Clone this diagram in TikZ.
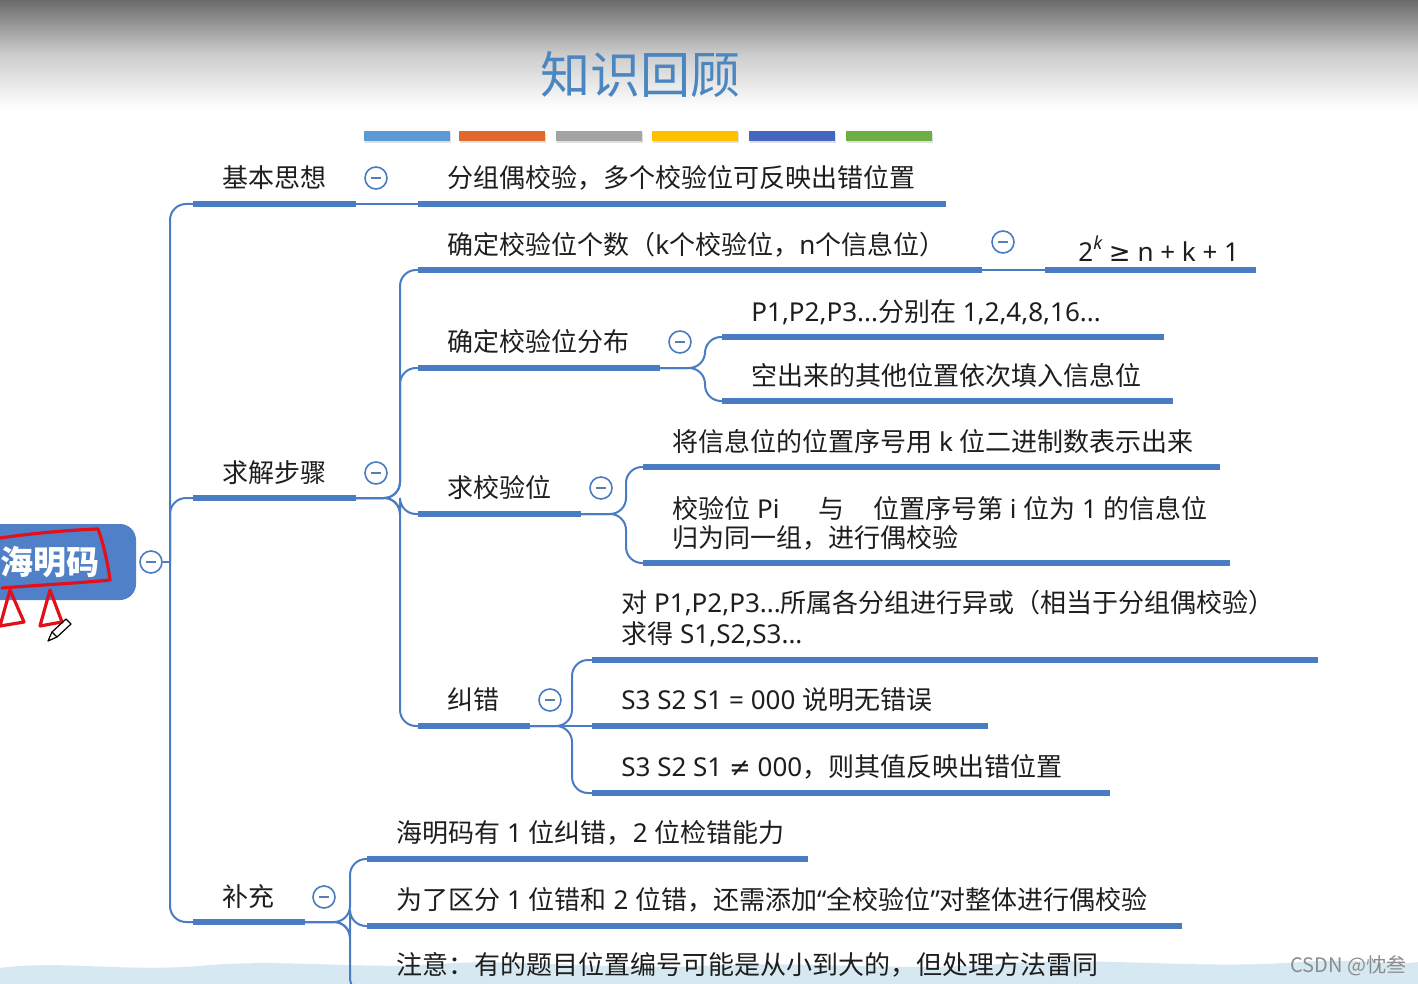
\documentclass[tikz,border=0pt]{standalone}
\usepackage{fontspec}
\usetikzlibrary{shadows}
\setmainfont{Noto Sans CJK SC}
\newfontfamily\lat{Noto Sans}
\newfontfamily\sym{DejaVu Sans}
\newcommand{\La}[1]{{\lat #1}}
\newcommand{\Sy}[1]{{\sym #1}}
\definecolor{mm}{HTML}{4A7CC4}
\definecolor{txt}{HTML}{1E1E1E}
\definecolor{ttl}{HTML}{4A86C0}
\definecolor{rootc}{HTML}{4F80C8}
\definecolor{annot}{HTML}{E3101C}
\definecolor{b1}{HTML}{5B9BD5}
\definecolor{b2}{HTML}{E0692D}
\definecolor{b3}{HTML}{A3A3A3}
\definecolor{b4}{HTML}{FFC000}
\definecolor{b5}{HTML}{4468C0}
\definecolor{b6}{HTML}{6CB043}
\definecolor{hill}{HTML}{D6E8F1}
\begin{document}
\begin{tikzpicture}[x=0.5pt,y=-0.5pt,
  lbl/.style={anchor=west, inner sep=0pt, text=txt, font=\fontsize{13}{15}\selectfont},
  lbltwo/.style={lbl, align=left, font=\fontsize{13}{14.5}\selectfont},
  uline/.style={line width=3pt, draw=mm},
  conn/.style={line width=1pt, draw=mm, rounded corners=8pt},
  tog/.style={circle, draw=mm, line width=0.8pt, fill=white, minimum size=11pt, inner sep=0pt,
    path picture={\draw[mm!70!gray, line width=0.9pt]
      ([xshift=-2.4pt]path picture bounding box.center) -- ([xshift=2.4pt]path picture bounding box.center);}},
  bar/.style={minimum width=43pt, minimum height=5pt, inner sep=0pt, drop shadow={opacity=0.25, shadow xshift=0.5pt, shadow yshift=-1pt}}
]
\useasboundingbox (0,0) rectangle (1418,984);
\begin{scope}
\clip (0,0) rectangle (1418,984);
% background
\fill[white] (0,0) rectangle (1418,984);
\shade[top color=black!58, bottom color=white, middle color=black!20] (0,0) rectangle (1418,108);
\fill[hill] (0,984) -- (0,968) .. controls (60,960) and (120,972) .. (200,966)
  .. controls (280,958) and (360,970) .. (440,964) .. controls (520,958) and (600,970) .. (700,966)
  .. controls (800,960) and (900,972) .. (1000,964) .. controls (1100,956) and (1200,970) .. (1300,962)
  .. controls (1360,958) and (1400,966) .. (1418,962) -- (1418,984) -- cycle;

% title
\node[text=ttl, font=\fontsize{25}{28}\selectfont, inner sep=0pt] (title) at (640,75) {知识回顾};
\node[bar, fill=b1] (bar1) at (407,136) {};
\node[bar, fill=b2] (bar2) at (502,136) {};
\node[bar, fill=b3] (bar3) at (599,136) {};
\node[bar, fill=b4] (bar4) at (695,136) {};
\node[bar, fill=b5] (bar5) at (792,136) {};
\node[bar, fill=b6] (bar6) at (889,136) {};

% root
\fill[rootc, rounded corners=8pt] (-30,524) rectangle (136,600);
\node[text=white, font=\fontsize{16.5}{18}\selectfont\bfseries, inner sep=0pt] (root) at (50,562) {海明码};
\node[tog] (t0) at (151,562) {};

% red annotation
\draw[annot, line width=1.6pt, line cap=round, line join=round]
  (0,538) .. controls (35,533) and (70,530) .. (98,529) .. controls (104,545) and (108,565) .. (110,580)
  .. controls (80,583) and (40,585) .. (2,588);
\draw[annot, line width=1.6pt, line join=round] (10,590) -- (0,626) -- (24,622) -- cycle;
\draw[annot, line width=1.6pt, line join=round] (50,590) -- (40,626) -- (62,622) -- cycle;
\draw[black, line width=0.6pt, line join=round] (48,641) -- (52,632) -- (66,619) -- (71,624) -- (57,637) -- cycle;
\draw[black, line width=0.6pt] (52,632) -- (57,637);

% trunk
\coordinate (tr) at (170,562);
\coordinate (n1a) at (193,204); \coordinate (n1b) at (356,204);
\coordinate (n2a) at (193,498); \coordinate (n2b) at (356,498);
\coordinate (n3a) at (193,922); \coordinate (n3b) at (305,922);
\draw[conn] (t0.east) -- (tr);
\draw[conn] (tr) |- (n1a);
\draw[conn] (tr) |- (n2a);
\draw[conn] (tr) |- (n3a);

% ---- 基本思想
\node[lbl] (n1) at (222,178) {基本思想};
\draw[uline] (n1a) -- (n1b);
\node[tog] (c1) at (376,178) {};
\node[lbl] (n11) at (447,178) {分组偶校验，多个校验位可反映出错位置};
\coordinate (n11a) at (418,204); \coordinate (n11b) at (946,204);
\draw[uline] (n11a) -- (n11b);
\draw[conn] (n1b) -- (n11a);

% ---- 求解步骤
\node[lbl] (n2) at (222,473) {求解步骤};
\draw[uline] (n2a) -- (n2b);
\node[tog] (c2) at (376,473) {};
\coordinate (v2) at (400,498);
\coordinate (n21a) at (418,270); \coordinate (n21b) at (982,270);
\coordinate (n22a) at (418,368); \coordinate (n22b) at (660,368);
\coordinate (n23a) at (418,514); \coordinate (n23b) at (581,514);
\coordinate (n24a) at (418,726); \coordinate (n24b) at (530,726);
\draw[conn] (n2b) -- (v2) |- (n21a);
\draw[conn] (n2b) -- (v2) |- (n22a);
\draw[conn] (n2b) -- (v2) |- (n23a);
\draw[conn] (n2b) -- (v2) |- (n24a);

% 确定校验位个数
\node[lbl] (n21) at (447,245) {确定校验位个数（\La{k}个校验位，\La{n}个信息位）};
\draw[uline] (n21a) -- (n21b);
\node[tog] (c21) at (1003,242) {};
\coordinate (n211a) at (1045,270); \coordinate (n211b) at (1256,270);
\draw[conn] (n21b) -- (n211a);
\draw[uline] (n211a) -- (n211b);
\node[lbl, font=\lat\fontsize{13}{15}\selectfont] (n211) at (1078,249) {2\raisebox{0.45em}{\fontsize{9}{9}\selectfont\itshape k} \Sy{≥} n + k + 1};

% 确定校验位分布
\node[lbl] (n22) at (447,342) {确定校验位分布};
\draw[uline] (n22a) -- (n22b);
\node[tog] (c22) at (680,342) {};
\coordinate (v22) at (705,368);
\coordinate (n221a) at (722,337); \coordinate (n221b) at (1164,337);
\coordinate (n222a) at (722,401); \coordinate (n222b) at (1173,401);
\draw[conn] (n22b) -- (v22) |- (n221a);
\draw[conn] (n22b) -- (v22) |- (n222a);
\node[lbl] (n221) at (751,312) {\La{P1,P2,P3...}分别在\La{ 1,2,4,8,16...}};
\draw[uline] (n221a) -- (n221b);
\node[lbl] (n222) at (751,376) {空出来的其他位置依次填入信息位};
\draw[uline] (n222a) -- (n222b);

% 求校验位
\node[lbl] (n23) at (447,488) {求校验位};
\draw[uline] (n23a) -- (n23b);
\node[tog] (c23) at (601,488) {};
\coordinate (v23) at (626,514);
\coordinate (n231a) at (643,467); \coordinate (n231b) at (1220,467);
\coordinate (n232a) at (643,563); \coordinate (n232b) at (1230,563);
\draw[conn] (n23b) -- (v23) |- (n231a);
\draw[conn] (n23b) -- (v23) |- (n232a);
\node[lbl] (n231) at (672,442) {将信息位的位置序号用\La{ k }位二进制数表示出来};
\draw[uline] (n231a) -- (n231b);
\node[lbltwo] (n232) at (672,523) {校验位\La{ Pi}\hspace{1.5em}与\hspace{1.1em}位置序号第\La{ i }位为\La{ 1 }的信息位\\归为同一组，进行偶校验};
\draw[uline] (n232a) -- (n232b);

% 纠错
\node[lbl] (n24) at (447,700) {纠错};
\draw[uline] (n24a) -- (n24b);
\node[tog] (c24) at (550,700) {};
\coordinate (v24) at (572,726);
\coordinate (n241a) at (592,660); \coordinate (n241b) at (1318,660);
\coordinate (n242a) at (592,726); \coordinate (n242b) at (988,726);
\coordinate (n243a) at (592,793); \coordinate (n243b) at (1110,793);
\draw[conn] (n24b) -- (v24) |- (n241a);
\draw[conn] (n24b) -- (n242a);
\draw[conn] (n24b) -- (v24) |- (n243a);
\node[lbltwo, font=\fontsize{13}{15.5}\selectfont] (n241) at (621,619) {对\La{ P1,P2,P3...}所属各分组进行异或（相当于分组偶校验）\\求得\La{ S1,S2,S3...}};
\draw[uline] (n241a) -- (n241b);
\node[lbl] (n242) at (621,700) {\La{S3 S2 S1 = 000 }说明无错误};
\draw[uline] (n242a) -- (n242b);
\node[lbl] (n243) at (621,767) {\La{S3 S2 S1 \Sy{≠} 000}，则其值反映出错位置};
\draw[uline] (n243a) -- (n243b);

% ---- 补充
\node[lbl] (n3) at (222,897) {补充};
\draw[uline] (n3a) -- (n3b);
\node[tog] (c3) at (324,897) {};
\coordinate (v3) at (350,922);
\coordinate (n31a) at (367,859); \coordinate (n31b) at (808,859);
\coordinate (n32a) at (367,926); \coordinate (n32b) at (1182,926);
\coordinate (n33a) at (367,994); \coordinate (n33b) at (1100,994);
\draw[conn] (n3b) -- (v3) |- (n31a);
\draw[conn] (n3b) -- (v3) |- (n32a);
\draw[conn] (n3b) -- (v3) |- (n33a);
\node[lbl] (n31) at (396,833) {海明码有\La{ 1 }位纠错，\La{2 }位检错能力};
\draw[uline] (n31a) -- (n31b);
\node[lbl] (n32) at (396,900) {为了区分\La{ 1 }位错和\La{ 2 }位错，还需添加\La{“}全校验位\La{”}对整体进行偶校验};
\draw[uline] (n32a) -- (n32b);
\node[lbl] (n33) at (396,965) {注意：有的题目位置编号可能是从小到大的，但处理方法雷同};
\draw[uline] (n33a) -- (n33b);

% watermark
\node[anchor=west, inner sep=0pt, text=black!45, font=\fontsize{10}{12}\selectfont] (wm) at (1290,966) {CSDN @忱叁};
\end{scope}
\end{tikzpicture}
\end{document}
